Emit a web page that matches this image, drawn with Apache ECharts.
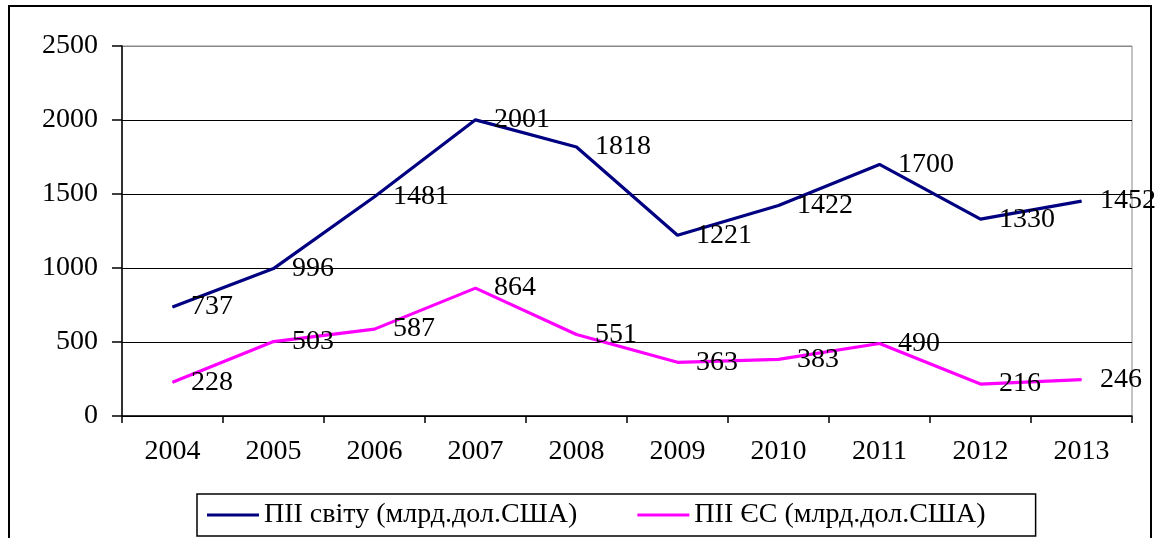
<!DOCTYPE html>
<html><head><meta charset="utf-8">
<script src="https://cdn.jsdelivr.net/npm/echarts@6/dist/echarts.min.js"></script>
<style>html,body{margin:0;padding:0;background:#fff}#c{width:1156px;height:538px}</style>
</head><body><div id="c"></div>
<script>
const years = ['2004','2005','2006','2007','2008','2009','2010','2011','2012','2013'];
const worldFDI = [737, 996, 1481, 2001, 1818, 1221, 1422, 1700, 1330, 1452];
const euFDI = [228, 503, 587, 864, 551, 363, 383, 490, 216, 246];
const seriesNames = ['ПІІ світу (млрд.дол.США)', 'ПІІ ЄС (млрд.дол.США)'];
const yTicks = [0, 500, 1000, 1500, 2000, 2500];

const FONT = "'Liberation Serif', 'Times New Roman', serif";
const FS = 28;
const chart = echarts.init(document.getElementById('c'));
const lbl = {show: true, position: 'right', distance: 18, color: '#000', fontFamily: FONT, fontSize: FS};
chart.setOption({
  animation: false,
  textStyle: {fontFamily: FONT},
  graphic: [{type: 'rect', shape: {x: 9, y: 6, width: 1142, height: 560}, style: {fill: 'none', stroke: '#000', lineWidth: 2}, z: -1}],
  grid: {left: 122, right: 24, top: 46, bottom: 122, show: true, borderColor: '#888', borderWidth: 1},
  legend: {
    bottom: 2, left: 197, itemWidth: 52, itemHeight: 3, itemGap: 60,
    padding: [7, 50, 7, 10], borderColor: '#000', borderWidth: 1.5,
    textStyle: {fontFamily: FONT, fontSize: FS, color: '#000'},
    icon: 'rect',
    data: seriesNames
  },
  xAxis: {
    type: 'category', data: years, boundaryGap: true,
    axisLine: {lineStyle: {color: '#000', width: 1.5}},
    axisTick: {show: true, length: 7, lineStyle: {color: '#000', width: 1.5}},
    axisLabel: {color: '#000', fontFamily: FONT, fontSize: FS, margin: 22}
  },
  yAxis: {
    type: 'value', min: yTicks[0], max: yTicks[yTicks.length - 1], interval: 500,
    axisLine: {show: true, lineStyle: {color: '#000', width: 1.5}},
    axisTick: {show: true, length: 10, lineStyle: {color: '#000', width: 1.5}},
    axisLabel: {color: '#000', fontFamily: FONT, fontSize: FS, margin: 24, formatter: v => String(v)},
    splitLine: {show: true, lineStyle: {color: ['#000', '#000', '#000', '#000', '#000', '#888'], width: 1.2}}
  },
  series: [
    {name: seriesNames[0], type: 'line', data: worldFDI, symbol: 'circle', symbolSize: 1, showSymbol: true,
     lineStyle: {color: '#000080', width: 3.2}, itemStyle: {color: '#000080'}, label: lbl},
    {name: seriesNames[1], type: 'line', data: euFDI, symbol: 'circle', symbolSize: 1, showSymbol: true,
     lineStyle: {color: '#FF00FF', width: 3.2}, itemStyle: {color: '#FF00FF'}, label: lbl}
  ]
});
</script></body></html>
